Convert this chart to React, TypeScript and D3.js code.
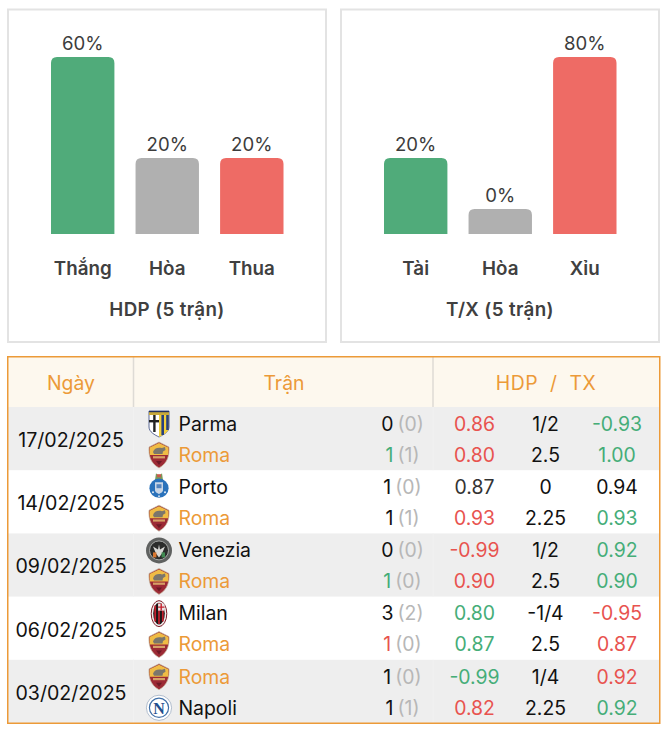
import React from 'react';
import * as d3 from 'd3';

const hdpLabels = ['Thắng', 'Hòa', 'Thua'];
const hdpValues = [60, 20, 20];
const txLabels = ['Tài', 'Hòa', 'Xỉu'];
const txValues = [20, 0, 80];

const dates = ['17/02/2025', '14/02/2025', '09/02/2025', '06/02/2025', '03/02/2025'];
const teamsTop = ['Parma', 'Porto', 'Venezia', 'Milan', 'Roma'];
const teamsBottom = ['Roma', 'Roma', 'Roma', 'Roma', 'Napoli'];
const goalsTop = [0, 1, 0, 3, 1];
const goalsBottom = [1, 1, 1, 1, 1];
const halfTop = [0, 0, 0, 2, 0];
const halfBottom = [1, 1, 0, 0, 1];
const goalResultBottom = ['win', 'none', 'win', 'loss', 'none'];
const hdpOddsTop = ['0.86', '0.87', '-0.99', '0.80', '-0.99'];
const hdpOddsBottom = ['0.80', '0.93', '0.90', '0.87', '0.82'];
const hdpResultTop = ['loss', 'none', 'loss', 'win', 'win'];
const hdpResultBottom = ['loss', 'loss', 'loss', 'win', 'loss'];
const handicap = ['1/2', '0', '1/2', '-1/4', '1/4'];
const totals = ['2.5', '2.25', '2.5', '2.5', '2.25'];
const txOddsTop = ['-0.93', '0.94', '0.92', '-0.95', '0.92'];
const txOddsBottom = ['1.00', '0.93', '0.90', '0.87', '0.92'];
const txResultTop = ['win', 'none', 'win', 'loss', 'loss'];
const txResultBottom = ['win', 'win', 'win', 'loss', 'win'];

const FONT = 'Inter, "Noto Sans", sans-serif';
const ORANGE = '#ec9a38';
const barColors = ['#50ab7a', '#b0b0b0', '#ee6b65'];
const resultColor: Record<string, string> = { win: '#45ad78', loss: '#e8534f', none: '#111' };

// bars are not proportional in the source: min height at 0, capped at the top
const barHeight = d3.scaleLinear().domain([0, 20, 60, 80]).range([25, 76, 177, 177]);

const Panel = ({ x, title, labels, values }: { x: number; title: string; labels: string[]; values: number[] }) => {
  const band = d3.scaleBand<string>().domain(labels).range([43, 275.5]).paddingInner(0.25).paddingOuter(0);
  const base = 234;
  return (
    <g transform={`translate(${x},0)`}>
      <rect x={0} y={9.5} width={318} height={332.5} fill="#fff" stroke="#e3e3e3" strokeWidth={2} />
      {labels.map((label, i) => {
        const h = barHeight(values[i]);
        const bx = band(label)!;
        const w = band.bandwidth();
        const top = base - h;
        const r = 6;
        const d = `M${bx},${base}V${top + r}Q${bx},${top} ${bx + r},${top}H${bx + w - r}Q${bx + w},${top} ${bx + w},${top + r}V${base}Z`;
        return (
          <g key={label} textAnchor="middle">
            <path d={d} fill={barColors[i]} />
            <text x={bx + w / 2} y={top - 7.5} fontSize={18.6} fill="#3c3c3c">{values[i]}%</text>
            <text x={bx + w / 2} y={275} fontSize={18.8} fontWeight={600} fill="#404040">{label}</text>
          </g>
        );
      })}
      <text x={159} y={316} textAnchor="middle" fontSize={18.8} fontWeight={600} letterSpacing={0.35} fill="#404040">{title}</text>
    </g>
  );
};

const RomaCrest = () => (
  <g>
    <path d="M0,-13 L10,-8 C10.5,0 9,8 0,13 C-9,8 -10.5,0 -10,-8 Z" fill="#9c2a35" stroke="#c9bda4" strokeWidth={0.7} />
    <path d="M0,-12 L9.3,-7.5 C9.6,-4 9.4,-2 9,0 L-9,0 C-9.4,-2 -9.6,-4 -9.3,-7.5 Z" fill="#efbc45" />
    <path d="M-6,-3 C-5,-7 -1,-8 3,-7 L6,-8 L6.5,-5 L4,-3.5 L3.5,-1 L-5,-1 Z" fill="#7b766c" />
    <rect x={-6} y={1.2} width={12} height={2.2} fill="#e9c877" opacity={0.75} />
    <path d="M-3,6 H3 L0,10 Z" fill="#6d1a26" />
  </g>
);

const ParmaCrest = () => (
  <g>
    <path d="M-10,-13 H10 V3 C10,8 4,11 0,13 C-4,11 -10,8 -10,3 Z" fill="#fff" stroke="#33457c" strokeWidth={0.8} />
    <rect x={-10} y={-13} width={20} height={4} fill="#c8a93a" />
    <rect x={-10} y={-13} width={20} height={1.2} fill="#22305f" />
    <path d="M0,-9 H10 V3 C10,8 4,11 0,13 Z" fill="#f1cf3d" />
    <rect x={2.4} y={-9} width={2.6} height={20} fill="#27407f" />
    <rect x={7.2} y={-9} width={2.6} height={15} fill="#27407f" />
    <rect x={-5.8} y={-9} width={2.4} height={17} fill="#222" />
    <rect x={-10} y={-4} width={10} height={2.4} fill="#222" />
  </g>
);

const PortoCrest = () => (
  <g>
    <path d="M-3,-14 L0,-11 L3,-14 L4,-7 H-4 Z" fill="#7a9a5a" />
    <rect x={-2} y={-13} width={4} height={3} fill="#c95b4c" />
    <circle cx={0} cy={1} r={9.6} fill="#2a72bb" />
    <path d="M-4,-5 H4 V3 C4,5 1,6 0,7 C-1,6 -4,5 -4,3 Z" fill="#c9d6e6" />
    <rect x={-2.5} y={-3} width={5} height={4} fill="#5584bd" />
    <circle cx={-6} cy={5} r={1} fill="#dfe9f3" />
    <circle cx={6} cy={5} r={1} fill="#dfe9f3" />
    <circle cx={0} cy={9} r={0.9} fill="#dfe9f3" />
  </g>
);

const VeneziaCrest = () => (
  <g>
    <circle cx={0} cy={0} r={13} fill="#5f6160" />
    <circle cx={0} cy={0} r={9.5} fill="#2b2c2b" stroke="#a6a8a6" strokeWidth={1} />
    <path d="M-6,-4 L-1,-1 L0,-6 L1,-1 L6,-4 L3,3 L0,7 L-3,3 Z" fill="#d9d9d6" />
    <rect x={-6} y={2} width={3.4} height={5} fill="#d9772f" />
    <rect x={2.6} y={2} width={3.4} height={5} fill="#3f8a51" />
  </g>
);

const MilanCrest = () => (
  <g>
    <ellipse cx={0} cy={0} rx={7.8} ry={13} fill="#f1eeee" stroke="#7f1d28" strokeWidth={1} />
    <ellipse cx={0} cy={0} rx={5.8} ry={10.8} fill="#1c1718" />
    <path d="M-3.8,-8 V8 M0,-10.5 V10.5 M3.8,-8 V8" stroke="#c5202e" strokeWidth={1.7} />
    <rect x={-0.9} y={-10} width={6.4} height={7} fill="#e9e4e4" />
    <path d="M2.2,-10 V-3 M-0.9,-6.5 H5.5" stroke="#c5202e" strokeWidth={1.4} />
  </g>
);

const NapoliCrest = () => (
  <g>
    <circle cx={0} cy={0} r={12.6} fill="#fff" stroke="#a9b7c8" strokeWidth={0.9} />
    <circle cx={0} cy={0} r={9.6} fill="#fff" stroke="#3f6fa8" strokeWidth={1.2} />
    <text x={0} y={5.8} textAnchor="middle" fontSize={16} fontWeight={700} fontFamily='"Liberation Serif", serif' fill="#1f4f8e">N</text>
  </g>
);

const crests: Record<string, () => React.ReactElement> = {
  Roma: RomaCrest,
  Parma: ParmaCrest,
  Porto: PortoCrest,
  Venezia: VeneziaCrest,
  Milan: MilanCrest,
  Napoli: NapoliCrest,
};

const rowScale = d3.scaleBand<string>().domain(dates).range([407, 723]);

const TeamLine = ({ team, y, goals, half, goalColor, odds, oddsColor, line, tx, txColor }: any) => {
  const Crest = crests[team];
  const baseline = y + 6.8;
  return (
    <g fontSize={19.4}>
      <g transform={`translate(159,${y})`}><Crest /></g>
      <text x={178.5} y={baseline} fill={team === 'Roma' ? ORANGE : '#111'}>{team}</text>
      <text x={402.5} y={baseline} textAnchor="middle">
        <tspan fill={goalColor}>{goals}</tspan>
        <tspan fill="#b7b7b7" dx={4}>({half})</tspan>
      </text>
      <text x={474.5} y={baseline} textAnchor="middle" fill={oddsColor}>{odds}</text>
      <text x={545.5} y={baseline} textAnchor="middle" fill="#111">{line}</text>
      <text x={617} y={baseline} textAnchor="middle" fill={txColor}>{tx}</text>
    </g>
  );
};

export default function App() {
  return (
    <svg width={668} height={734} style={{ position: 'absolute', left: 0, top: 0, background: '#fff' }} fontFamily={FONT}>
      <Panel x={8} title="HDP (5 trận)" labels={hdpLabels} values={hdpValues} />
      <Panel x={341} title="T/X (5 trận)" labels={txLabels} values={txValues} />

      <rect x={7.75} y={356.75} width={652} height={366.5} fill="#fff" />
      <rect x={7.75} y={356.75} width={652} height={50.25} fill="#fdf8ee" />
      <line x1={133.5} x2={133.5} y1={357} y2={407} stroke="#dedbd5" strokeWidth={1.5} />
      <line x1={433} x2={433} y1={357} y2={407} stroke="#dedbd5" strokeWidth={1.5} />
      <g fontSize={19.4} fill={ORANGE} textAnchor="middle">
        <text x={71} y={390}>Ngày</text>
        <text x={284} y={390}>Trận</text>
        <text x={546} y={390} letterSpacing={0.5}>{'HDP\u00A0\u00A0/\u00A0\u00A0TX'}</text>
      </g>

      {dates.map((date, i) => {
        const top = rowScale(date)!;
        const h = rowScale.bandwidth();
        return (
          <g key={date}>
            {i % 2 === 0 && <rect x={8} y={top} width={651} height={h} fill="#eeeeee" />}
            {i % 2 === 0 && <line x1={133.5} x2={133.5} y1={top} y2={top + h} stroke="#f1f1f1" />}
            {i % 2 === 0 && <line x1={433} x2={433} y1={top} y2={top + h} stroke="#f1f1f1" />}
            <text x={71} y={top + 40} textAnchor="middle" fontSize={19.6} fill="#111">{date}</text>
            <TeamLine
              team={teamsTop[i]} y={top + 17} goals={goalsTop[i]} half={halfTop[i]} goalColor="#111"
              odds={hdpOddsTop[i]} oddsColor={hdpResultTop[i] === 'none' ? '#333' : resultColor[hdpResultTop[i]]}
              line={handicap[i]} tx={txOddsTop[i]} txColor={resultColor[txResultTop[i]]}
            />
            <TeamLine
              team={teamsBottom[i]} y={top + 48} goals={goalsBottom[i]} half={halfBottom[i]} goalColor={resultColor[goalResultBottom[i]]}
              odds={hdpOddsBottom[i]} oddsColor={resultColor[hdpResultBottom[i]]}
              line={totals[i]} tx={txOddsBottom[i]} txColor={resultColor[txResultBottom[i]]}
            />
          </g>
        );
      })}
      <rect x={7.75} y={356.75} width={652} height={366.5} fill="none" stroke={ORANGE} strokeWidth={1.5} />
    </svg>
  );
}
